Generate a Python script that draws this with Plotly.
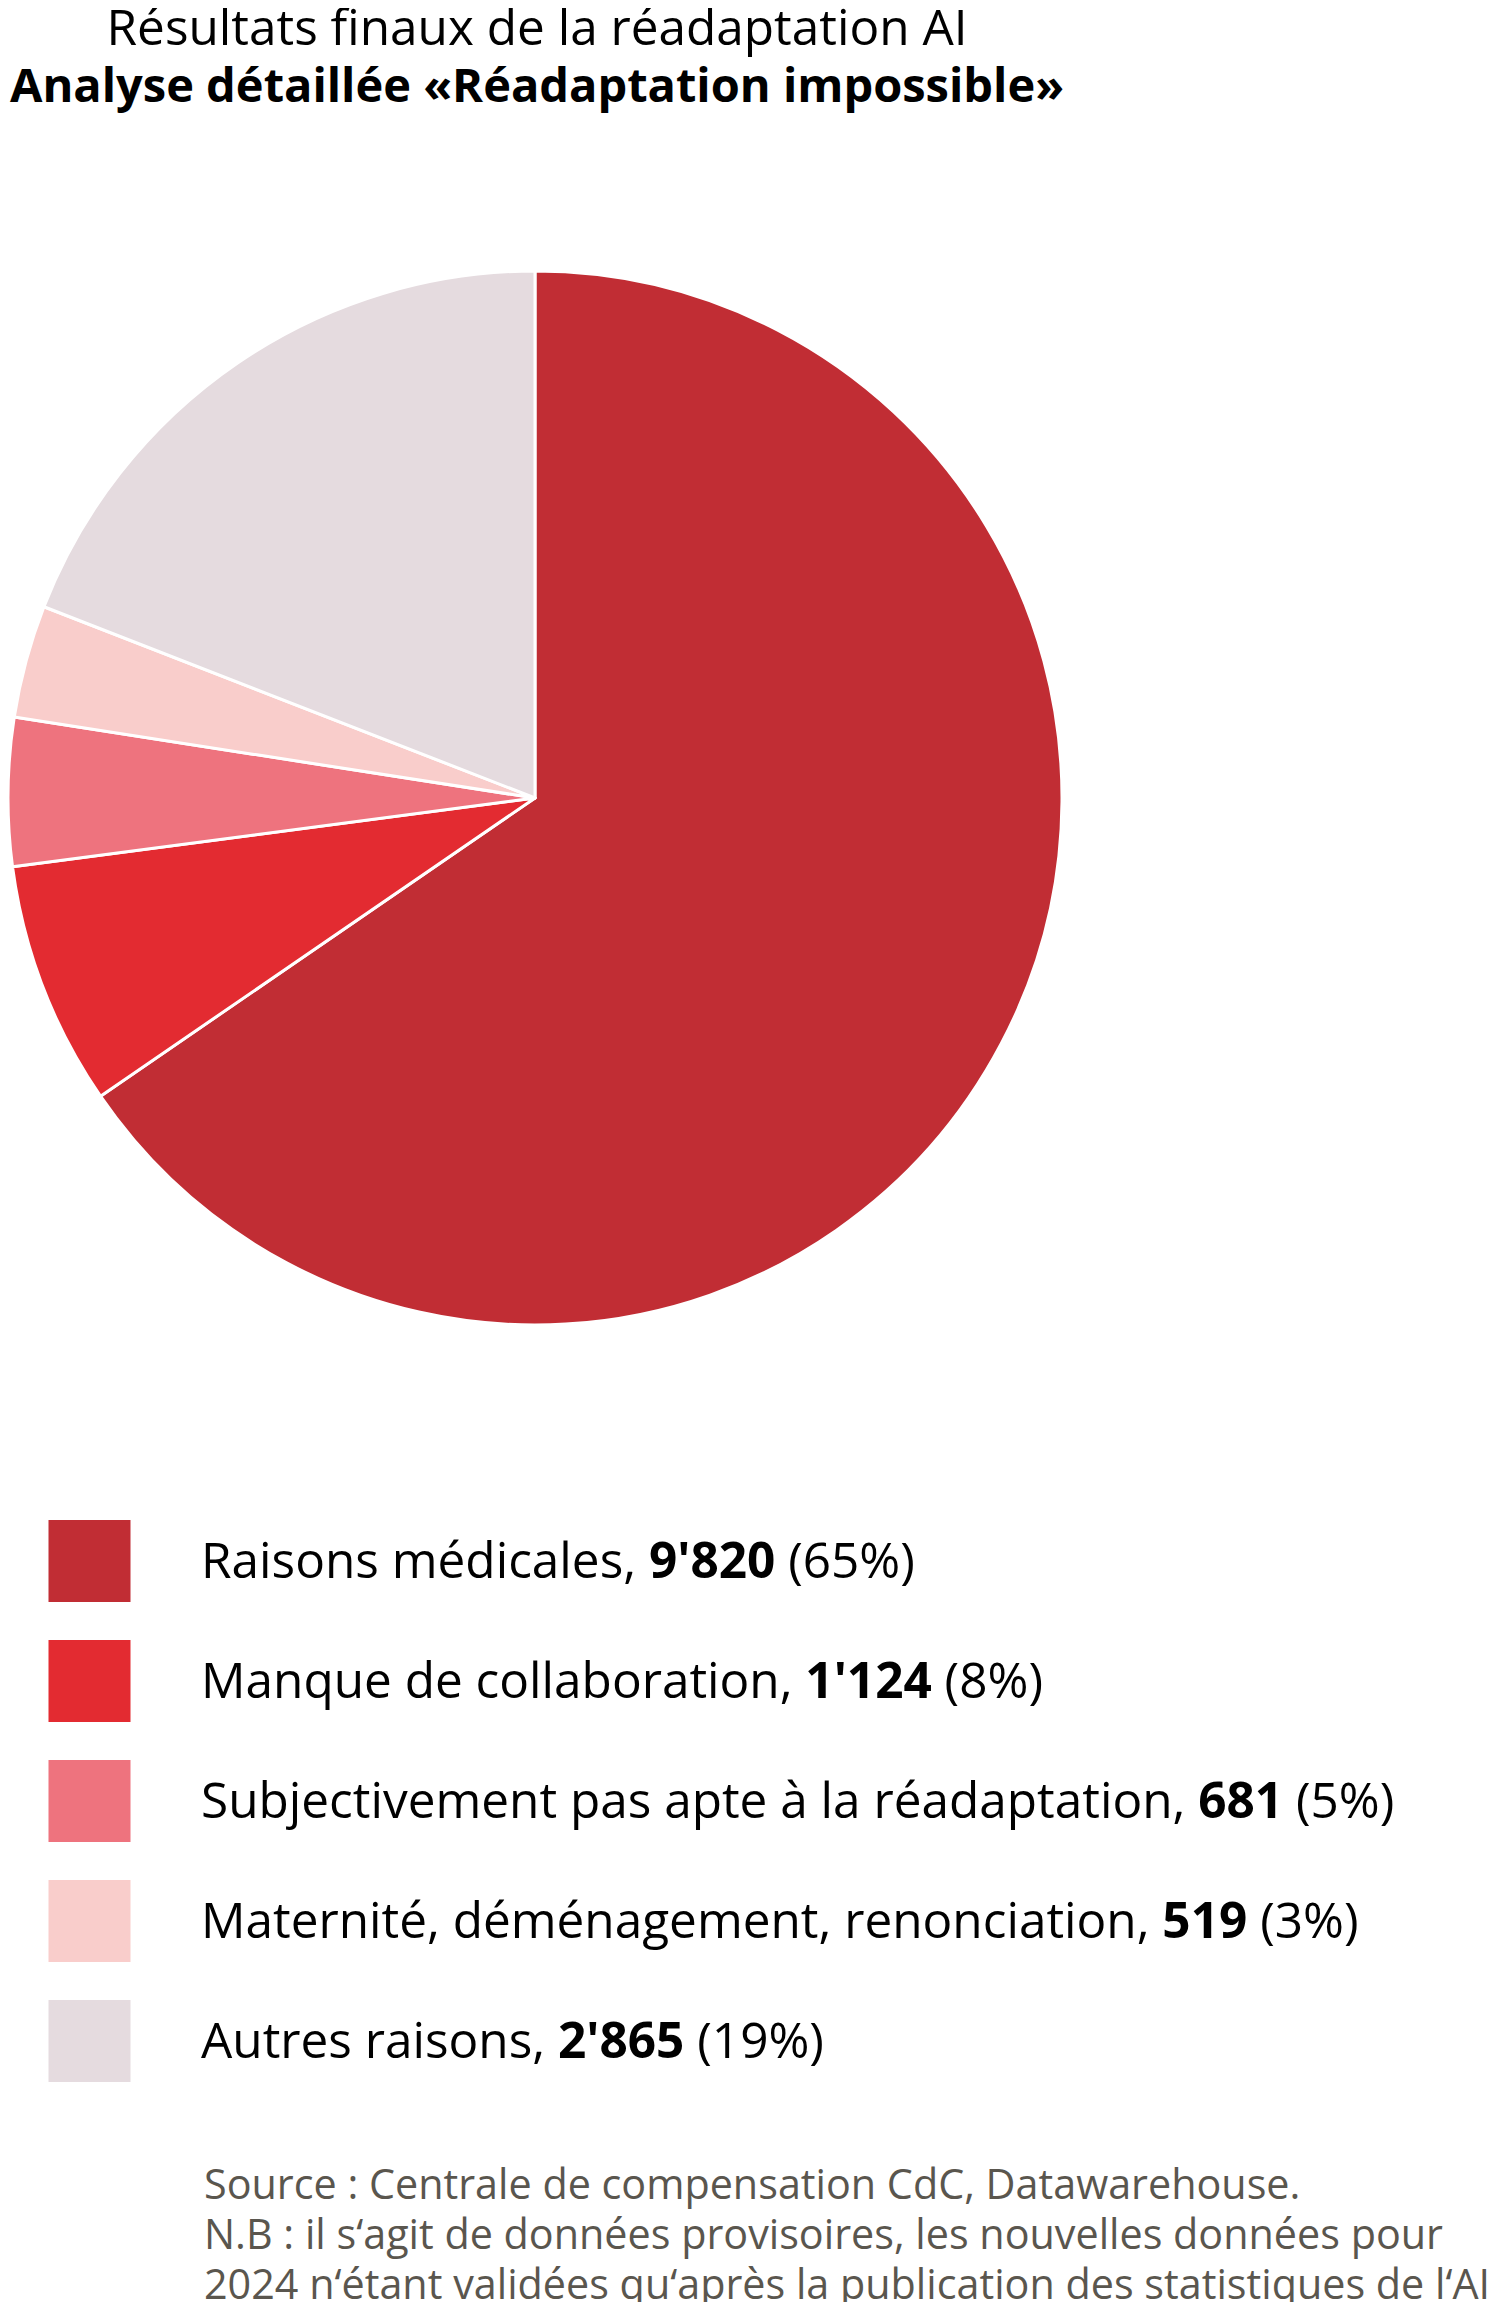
import plotly.graph_objects as go

# ---- data ----
categories = [
    "Raisons médicales",
    "Manque de collaboration",
    "Subjectivement pas apte à la réadaptation",
    "Maternité, déménagement, renonciation",
    "Autres raisons",
]
values = [9820, 1124, 681, 519, 2865]
percent_labels = [65, 8, 5, 3, 19]
colors = ["#c12d34", "#e32b31", "#ee737e", "#f9cdcb", "#e5dbdf"]

title_line1 = "Résultats finaux de la réadaptation AI"
title_line2 = "Analyse détaillée «Réadaptation impossible»"
source_lines = [
    "Source : Centrale de compensation CdC, Datawarehouse.",
    "N.B : il s‘agit de données provisoires, les nouvelles données pour",
    "2024 n‘étant validées qu‘après la publication des statistiques de l‘AI.",
]

# page is 1500x2310; the browser body has an 8px margin around the figure
PAGE_W, PAGE_H = 1500, 2310
M = 8
W, H = PAGE_W - 2 * M, PAGE_H - 2 * M
FONT = "Open Sans"


def px(x):
    """screen x (page pixels) -> paper"""
    return min(max((x - M) / W, 0.0), 1.0)


def py(y):
    """screen y (page pixels) -> paper"""
    return min(max(1 - (y - M) / H, 0.0), 1.0)


def fmt(v):
    return f"{v:,}".replace(",", "'")


# pie geometry (page pixels)
r = 527
cx, cy = M + r, 798

fig = go.Figure()
fig.add_trace(
    go.Pie(
        labels=categories,
        values=values,
        sort=False,
        direction="clockwise",
        rotation=0,
        marker=dict(colors=colors, line=dict(color="white", width=3)),
        textinfo="none",
        hoverinfo="label+value",
        showlegend=False,
        domain=dict(x=[px(cx - r), px(cx + r)], y=[py(cy + r), py(cy - r)]),
    )
)

# legend drawn as scatter squares on a hidden axis
row0, step = 1561, 120
n = len(categories)
top_px = row0 - step / 2
bot_px = row0 + step * (n - 0.5)
fig.add_trace(
    go.Scatter(
        x=[89.5 - M] * n,
        y=list(range(n)),
        mode="markers",
        marker=dict(symbol="square", size=82, color=colors, line=dict(width=0)),
        xaxis="x",
        yaxis="y",
        hoverinfo="skip",
        showlegend=False,
    )
)

annotations = []
for i, (c, v, p) in enumerate(zip(categories, values, percent_labels)):
    annotations.append(
        dict(
            x=199 - M, y=i, xref="x", yref="y",
            text=f"{c}, <b>{fmt(v)}</b> ({p}%)",
            showarrow=False, xanchor="left", yanchor="middle",
            font=dict(family=FONT, size=49.5, color="#000000"),
            yshift=2,
        )
    )

annotations.append(
    dict(x=px(537), y=py(54), xref="paper", yref="paper",
         text=(f'<span style="font-size:49.5px">{title_line1}</span>'
               f'<br><span style="font-size:47px"><b>{title_line2}</b></span>'),
         showarrow=False, xanchor="center", yanchor="middle", align="center",
         font=dict(family=FONT, size=44, color="#000000"))
)
for j, line in enumerate(source_lines):
    annotations.append(
        dict(x=px(202), y=py(2183 + 50 * j), xref="paper", yref="paper", text=line,
             showarrow=False, xanchor="left", yanchor="middle",
             font=dict(family=FONT, size=41.3, color="#5a564e"))
    )

fig.update_layout(
    width=W,
    height=H,
    margin=dict(l=0, r=0, t=0, b=0),
    paper_bgcolor="white",
    plot_bgcolor="rgba(0,0,0,0)",
    font=dict(family=FONT),
    xaxis=dict(range=[0, W], domain=[0, 1], visible=False, fixedrange=True),
    yaxis=dict(range=[n - 0.5, -0.5], domain=[py(bot_px), py(top_px)],
               visible=False, fixedrange=True),
    annotations=annotations,
)

fig.write_html("out.html")
